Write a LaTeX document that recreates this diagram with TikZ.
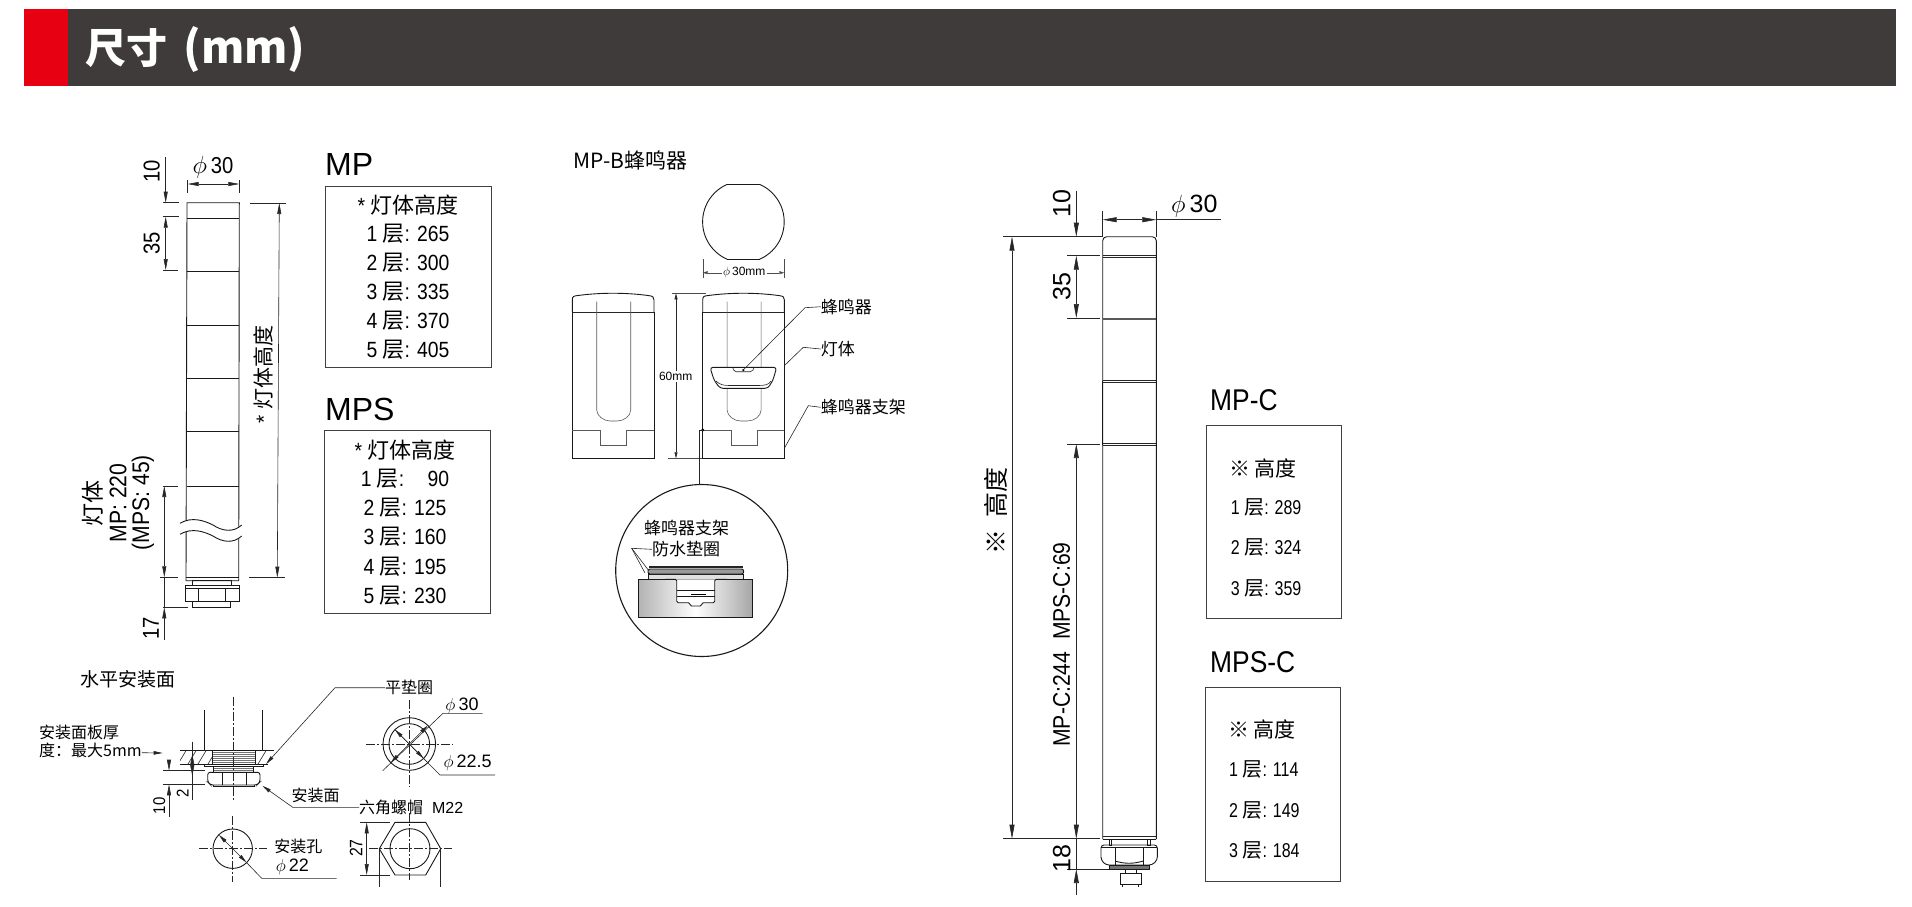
\documentclass[tikz,border=0pt]{standalone}
\usepackage{fontspec}
\setmainfont{Liberation Sans}
\newfontfamily\cjk{Noto Sans CJK SC}
\newfontfamily\narrowsans[FakeStretch=0.88]{Liberation Sans}
\newfontfamily\slimsans[FakeStretch=0.8]{Liberation Sans}
\usetikzlibrary{arrows.meta,positioning}
\definecolor{headgray}{HTML}{3F3B3A}
\definecolor{headred}{HTML}{E60012}
\newcommand{\cn}[1]{{\cjk #1}}
\newcommand{\fsz}[1]{\fontsize{#1}{#1}\selectfont}
\newcommand{\dia}{$\phi$\,}
\tikzset{
  txt/.style={inner sep=0pt,font=\fsz{#1}},
  cntxt/.style={inner sep=0pt,font=\cjk\fsz{#1}},
  rowtxt/.style={inner sep=0pt,font=\narrowsans\fsz{22}},
  slimrow/.style={inner sep=0pt,anchor=west,font=\slimsans\fsz{20}},
  dimtxt/.style={inner sep=0pt,rotate=90,font=\narrowsans\fsz{#1}},
  outline/.style={line width=0.9pt,black!90},
  wavecut/.style={white,line width=10pt},
  thinline/.style={line width=0.6pt,black!85},
  tablebox/.style={line width=0.9pt,black!75},
  axisline/.style={line width=0.6pt,black!85,dash pattern=on 9pt off 2pt on 2pt off 2pt},
  dimboth/.style={thinline,{Stealth[length=11pt,width=4pt,inset=0pt]}-{Stealth[length=11pt,width=4pt,inset=0pt]}},
  dimend/.style={thinline,-{Stealth[length=11pt,width=4pt,inset=0pt]}},
  bigboth/.style={thinline,{Stealth[length=14pt,width=5pt,inset=0pt]}-{Stealth[length=14pt,width=5pt,inset=0pt]}},
  bigend/.style={thinline,-{Stealth[length=14pt,width=5pt,inset=0pt]}},
  circboth/.style={thinline,{Stealth[length=9pt,width=3.5pt,inset=0pt]}-{Stealth[length=9pt,width=3.5pt,inset=0pt]}},
  minibegin/.style={line width=0.4pt,black!70,{Stealth[length=5pt,width=3pt,inset=0pt]}-},
  miniend/.style={line width=0.4pt,black!70,-{Stealth[length=5pt,width=3pt,inset=0pt]}},
  leadtip/.style={thinline,-{Stealth[length=9pt,width=3.5pt,inset=0pt]}}
}
\begin{document}
\begin{tikzpicture}[x=1pt,y=-1pt]
\useasboundingbox (0,0) rectangle (1912,906);

% Header bar
\fill[headgray] (67,9) rectangle (1896,86);
\fill[headred] (24,9) rectangle (67.5,86);
\node[anchor=west,white,inner sep=0pt,font=\cjk\bfseries\fsz{41}] (headtitle) at (85,50) {尺寸\hspace{7pt} {\fsz{44}(mm)}};

% Left lamp body
\draw[outline] (186,580.7) -- (187,202.7) -- (239.3,202.7) -- (238.7,580.7) -- cycle;
\foreach \yy in {218.3,271.7,325,378.3,431.7,486} \draw[outline] (186.5,\yy) -- (239,\yy);
\draw[outline] (186,577.3) -- (238.7,577.3);
\foreach \dy/\sty in {5.5/wavecut,0/outline,11/outline}
  \draw[shift={(0,\dy)},\sty] (180,523.3) .. controls (192,516) and (205,521) .. (213,525)
     .. controls (222,531) and (233,533) .. (241.7,525);
% Left lamp nut
\draw[outline] (192.7,580.7) rectangle (231.3,585);
\draw[outline] (185,585) rectangle (239,601.7);
\draw[outline] (185,588) -- (239,588);
\draw[outline] (198,588) -- (198,601.7) (225.3,588) -- (225.3,601.7);
\draw[outline] (192.7,601.7) rectangle (230.7,607.3);

% Left lamp dimensions
\draw[thinline] (187.7,180) -- (187.7,192.7) (239.3,180) -- (239.3,192.7);
\draw[dimboth] (187.7,184) -- (239.3,184);
\node[inner sep=0pt,font=\narrowsans\fsz{23}] (leftdia) at (213,167) {\dia 30};
\draw[dimend] (165.7,157) -- (165.7,202.7);
\draw[thinline] (163,202.7) -- (179,202.7) (163,216.7) -- (179,216.7) (163,270) -- (178,270);
\draw[dimboth] (165.7,216.7) -- (165.7,270);
\node[dimtxt=23] (lefttop) at (151.7,171.7) {10};
\node[dimtxt=23] (leftstep) at (151.7,243) {35};
\draw[thinline] (163,486) -- (178,486) (160,577.3) -- (178,577.3) (163,607.3) -- (188,607.3);
\draw[dimboth] (164.3,486) -- (164.3,577.3);
\draw[thinline] (164.3,577.3) -- (164.3,607.3);
\draw[dimend] (164.3,640) -- (164.3,607.3);
\node[dimtxt=23] (leftbase) at (151,628) {17};
\node[rotate=90,inner sep=0pt,font=\cjk\fsz{23}] (bodyname) at (93,503) {灯体};
\node[dimtxt=24] (bodymp) at (118,503) {MP: 220};
\node[dimtxt=24] (bodymps) at (143,502.7) {(MPS: 45)};
\draw[thinline] (250,203) -- (286,203) (249,577.5) -- (285,577.5);
\draw[dimboth] (279.3,203) -- (277.3,577.5);
\node[rotate=90,inner sep=0pt,font=\fsz{21}] (heightlbl) at (263,374) {* \cn{灯体高度}};

% MP table
\node[anchor=west,txt=32] (mptitle) at (325,164) {MP};
\draw[tablebox] (325,186) rectangle (491,367.3);
\node[rowtxt] (mphead) at (408,205) {* \cn{灯体高度}};
\foreach \i/\yy/\val in {1/233.3/265,2/262.7/300,3/291.7/335,4/320.7/370,5/350/405}
  \node[rowtxt] (mprow\i) at (408,\yy) {\i\ \cn{层}: \val};

% MPS table
\node[anchor=west,txt=32] (mpstitle) at (325,409) {MPS};
\draw[tablebox] (324.5,430.7) rectangle (490,613.3);
\node[rowtxt] (mpshead) at (405,450) {* \cn{灯体高度}};
\foreach \i/\yy/\val in {1/479/{\ \ \ 90},2/508/125,3/537/160,4/567/195,5/595.7/230}
  \node[rowtxt] (mpsrow\i) at (405,\yy) {\i\ \cn{层}: \val};

% Horizontal mounting section
\node[anchor=west,cntxt=19] (mountname) at (80,679) {水平安装面};
\draw[outline] (204.3,710) -- (204.3,750.7) (262.3,710) -- (262.3,750.7);
\begin{scope}
  \clip (180,750.7) -- (274,750.7) -- (268,764) -- (180,764) -- cycle;
  \foreach \xx in {178,188,198,208,248,258,268,278} \draw[thinline] (\xx,764) -- (\xx+8,750.7);
\end{scope}
\draw[outline] (180,750.7) -- (274,750.7) (180,764) -- (268,764);
\fill[white] (212.7,751) rectangle (255,763.7);
\foreach \yy in {752.5,754.5,...,763} \draw[line width=0.5pt,black!55] (212.7,\yy) -- (255,\yy);
\draw[outline] (212.7,750.7) -- (212.7,764) (255,750.7) -- (255,764);
\draw[outline] (204.3,764) rectangle (263.3,766.7);
\foreach \yy in {768,770} \draw[line width=0.5pt,black!55] (213.3,\yy) -- (253.3,\yy);
\draw[outline] (213.3,766.7) -- (213.3,772) (253.3,766.7) -- (253.3,772);
\draw[outline,rounded corners=2.5pt] (207.7,772.3) -- (260,772.3) -- (260,782) -- (257,785) -- (210.7,785) -- (207.7,782) -- cycle;
\draw[outline] (222.7,772.3) -- (222.7,785) (246,772.3) -- (246,785);
\draw[outline] (213,785) -- (213,786.7) -- (254,786.7) -- (254,785);
\draw[axisline] (233.7,696.7) -- (233.7,800);

% Mounting section dimensions
\draw[thinline] (163,770.7) -- (205,770.7) (163,784.3) -- (205,784.3);
\draw[dimend] (169,760) -- (169,770.7);
\draw[dimend] (169,817) -- (169,784.3);
\node[dimtxt=17] (mounttall) at (159.3,805.7) {10};
\draw[thinline] (192.3,741.7) -- (192.3,800);
\draw[dimend] (192.3,768) -- (192.3,754);
\draw[dimend] (192.3,765) -- (192.3,776);
\node[dimtxt=17] (mountgap) at (182.7,793) {2};
\node[anchor=west,cntxt=16] (panelone) at (39,732.7) {安装面板厚};
\node[anchor=west,cntxt=16] (paneltwo) at (39,750.7) {度：最大5mm};
\coordinate (panelend) at (162.7,753);
\draw[leadtip] (paneltwo.east) ++(0,2) -- (panelend);

% Leaders of the mounting section
\node[cntxt=16] (washerlbl) at (409,687.7) {平垫圈};
\coordinate (washerbend) at (335,687.7);
\coordinate (washertip) at (266,764);
\draw[leadtip] (washerlbl.west) -- (washerbend) -- (washertip);
\node[cntxt=16] (facelbl) at (315.7,795) {安装面};
\node[anchor=west,inner sep=0pt,font=\fsz{16}] (nutlbl) at (359,807.3) {\cn{六角螺帽}\ \ M22};
\coordinate (facebend) at (292.7,807.3);
\coordinate (facetip) at (262.3,785.7);
\draw[leadtip] (nutlbl.west) -- (facebend) -- (facetip);

% Washer circles
\draw[outline] (409.3,744) circle (26.3);
\draw[outline] (409.3,744) circle (20.3);
\draw[axisline] (409.3,700) -- (409.3,786.7);
\draw[axisline] (366,744) -- (452.7,744);
\node[txt=18] (outerdia) at (462,705.7) {\dia 30};
\node[txt=18] (innerdia) at (467.7,763.3) {\dia 22.5};
\coordinate (outera) at (427.9,725.4);
\coordinate (outerb) at (390.7,762.6);
\draw[thinline] (482.7,713.3) -- (443,713.3) -- (382.7,770.7);
\draw[circboth] (outera) -- (outerb);
\coordinate (innera) at (394.9,729.6);
\coordinate (innerb) at (423.7,758.4);
\draw[thinline] (495,775) -- (440,775) -- (innera);
\draw[circboth] (innera) -- (innerb);

% Mounting hole
\draw[outline] (232.7,848.7) circle (19.7);
\draw[axisline] (232.7,815.7) -- (232.7,882.3);
\draw[axisline] (199.3,848.7) -- (266.7,848.7);
\node[cntxt=16] (holelbl) at (298.3,846.7) {安装孔};
\node[txt=18] (holedia) at (292.3,866.7) {\dia 22};
\coordinate (holea) at (218.8,834.8);
\coordinate (holeb) at (246.6,862.6);
\draw[thinline] (336.7,878.3) -- (261.7,878.3) -- (holeb);
\draw[circboth] (holea) -- (holeb);

% Hex nut
\draw[outline] (379.3,848.7) -- (395,822.3) -- (425.7,822.3) -- (440.7,848.7) -- (425.7,875) -- (395,875) -- cycle;
\draw[outline] (410,848.7) circle (20);
\draw[axisline] (409,813) -- (409,880);
\draw[axisline] (369,848.7) -- (452,848.7);
\draw[thinline] (360,822.3) -- (390,822.3) (360,875) -- (390,875);
\draw[dimboth] (366.7,822.3) -- (366.7,875);
\node[dimtxt=18] (hexflat) at (356,848) {27};
\draw[thinline] (379.3,848.7) -- (379.3,886.7) (440.7,848.7) -- (440.7,886.7);

% Buzzer title and top view
\node[anchor=west,cntxt=21] (buzzname) at (573.3,160) {MP-B蜂鸣器};
\begin{scope}
  \clip (700,184.3) rectangle (790,259.3);
  \draw[outline] (743.4,221.8) circle (40.8);
\end{scope}
\draw[outline] (726.9,184.5) -- (759.9,184.5) (726.9,259.1) -- (759.9,259.1);
\draw[line width=0.4pt,black!70] (702.7,259.3) -- (702.7,278.3) (784.3,259.3) -- (784.3,278.3);
\node[inner sep=1pt,font=\fsz{12}] (buzzdia) at (744.3,272.7) {\dia 30mm};
\coordinate (diaLeft) at (702.7,272.7);
\coordinate (diaRight) at (784.3,272.7);
\draw[minibegin] (diaLeft) -- (buzzdia.west);
\draw[miniend] (buzzdia.east) -- (diaRight);

% Two buzzer lamps
\foreach \dx in {0,130.4} {
  \begin{scope}[shift={(\dx,0)}]
    \draw[outline] (572.3,312) -- (572.3,300) .. controls (572.3,296) and (574,296) .. (578,295.5)
      .. controls (600,292.5) and (626,292.5) .. (648,295.5)
      .. controls (653,296) and (654,297) .. (654,300) -- (654,312);
    \draw[line width=1.6pt,black!85] (572.3,312.5) -- (654,312.5);
    \draw[outline] (572.3,312) -- (572.3,458.3) -- (654,458.3) -- (654,312);
    \draw[thinline,black!65] (596.7,301.7) -- (596.7,410) .. controls (596.7,416) and (604,421) .. (610,421)
      -- (617,421) .. controls (624,421) and (630.7,416) .. (630.7,410) -- (630.7,301.7);
    \draw[thinline,black!65] (572.3,430) -- (600.7,430) -- (600.7,445) -- (626.7,445) -- (626.7,430) -- (654,430);
  \end{scope}
}

% Buzzer unit on the right lamp
\draw[outline,fill=white,rounded corners=3pt] (710,367.3) -- (776.7,367.3) -- (773,380) -- (768,388.3) -- (720,388.3) -- (714,380) -- cycle;
\draw[thinline] (716,381) .. controls (720,385) and (724,385.5) .. (730,385.5) -- (758,385.5) .. controls (764,385.5) and (769,385) .. (771,381);
\draw[thinline,rounded corners=2pt] (732.7,367.3) -- (734,371.7) -- (752.5,371.7) -- (754,367.3);
\fill (743.3,370) circle (1.2);

% Buzzer leaders
\node[anchor=west,cntxt=17] (buzzlbl) at (820.7,306.7) {蜂鸣器};
\node[anchor=west,cntxt=17] (bodylbl) at (820.7,349) {灯体};
\node[anchor=west,cntxt=17] (standlbl) at (820.7,407.3) {蜂鸣器支架};
\coordinate (buzzdot) at (743.3,370);
\coordinate (bodytip) at (785,365);
\coordinate (standtip) at (784.3,448.3);
\draw[thinline] (buzzlbl.west) -- (805,307.7) -- (buzzdot);
\draw[thinline] (bodylbl.west) -- (803.3,347.3) -- (bodytip);
\draw[thinline] (standlbl.west) -- (808.3,405.7) -- (standtip);

% Buzzer height
\draw[line width=0.4pt,black!70] (671.7,293.3) -- (706,293.3) (668,458.3) -- (702,458.3);
\draw[thinline,{Stealth[length=6pt,width=3pt,inset=0pt]}-{Stealth[length=6pt,width=3pt,inset=0pt]}] (676,293.3) -- (676,458.3);
\node[fill=white,inner sep=1pt,font=\fsz{12}] (buzzheight) at (675.7,376.7) {60mm};

% Detail circle
\draw[line width=1.1pt,black!90] (701.7,570.5) circle (86);
\coordinate (detaildot) at (702.7,430);
\fill (detaildot) circle (1.7);
\draw[thinline] (detaildot) -- (699,430) -- (699,484.5);
\node[cntxt=17] (detailstand) at (686.7,527.7) {蜂鸣器支架};
\node[cntxt=17] (detailseal) at (686,549.3) {防水垫圈};
\draw[thinline] (detailseal.west) -- (631.7,548.3) -- (648.3,570);
\draw[thinline] (631.7,548.3) -- (645,573);
\draw[outline,fill=black!12] (648.3,574) rectangle (743.3,579.3);
\draw[outline,fill=black!40,rounded corners=2pt] (648,569) rectangle (743.6,574);
\draw[line width=2pt,black!85] (649,566.5) -- (743,566.5);
\shade[left color=black!30,right color=black!35,middle color=white] (638.3,579.3) rectangle (752.7,617.7);
\draw[outline] (638.3,579.3) rectangle (752.7,617.7);
\draw[outline,fill=white,rounded corners=1.5pt] (665,579.3) -- (676.7,579.3) -- (676.7,602.7) -- (690,602.7) -- (690,606) -- (701.7,606) -- (701.7,602.7) -- (714.7,602.7) -- (714.7,579.3) -- (727,579.3);
\draw[outline] (676.7,590) -- (714.7,590) (676.7,596.7) -- (714.7,596.7);
\draw[line width=1pt] (691,594.5) -- (706,594.5);

% Right lamp body
\draw[outline,rounded corners=4pt] (1102.7,839) -- (1102.7,236.7) -- (1156.3,236.7) -- (1156.3,839);
\draw[outline] (1102.7,839) -- (1156.3,839);
\foreach \yy in {255.7,257.7,380.7,382.7,443.3,445.3,836.7} \draw[thinline] (1102.7,\yy) -- (1156.3,\yy);
\draw[line width=1.6pt,black!65] (1102.7,319) -- (1156.3,319);
\draw[outline] (1102.7,380.7) -- (1102.7,445.3) (1156.3,380.7) -- (1156.3,445.3);
% Right lamp nut and stud
\draw[outline] (1109,839) rectangle (1111.7,845) (1147.3,839) rectangle (1150,845);
\draw[outline,rounded corners=3pt] (1101,845) -- (1157.3,845) -- (1157.3,860) -- (1152,865) -- (1106,865) -- (1101,860) -- cycle;
\draw[outline] (1101,847.5) -- (1157.3,847.5) (1115,847.5) -- (1115,865) (1143.3,847.5) -- (1143.3,865);
\draw[outline] (1115,861) .. controls (1125,864) and (1133,864) .. (1143.3,861);
\draw[outline,fill=black!55] (1109,865) rectangle (1149.3,869);
\draw[outline] (1125,869) -- (1125,873.3) (1136,869) -- (1136,873.3);
\draw[outline] (1120,873.3) rectangle (1141.7,884);
\draw[outline] (1122.7,884) -- (1122.7,887.3) (1138.3,884) -- (1138.3,887.3);

% Right lamp dimensions
\draw[thinline] (1102.7,210.7) -- (1102.7,236.7) (1156.3,210.7) -- (1156.3,236.7);
\draw[bigboth] (1102.7,219.7) -- (1156.3,219.7);
\draw[thinline] (1156.3,219.7) -- (1220.7,219.7);
\node[inner sep=0pt,font=\fsz{25}] (rightdia) at (1194.3,206) {\dia 30};
\draw[bigend] (1076.3,190.7) -- (1076.3,236.7);
\draw[thinline] (1003.3,236.7) -- (1102.7,236.7);
\draw[thinline] (1067.3,255.7) -- (1100,255.7) (1067.3,318) -- (1100,318) (1067.3,444) -- (1100,444);
\draw[bigboth] (1076.3,255.7) -- (1076.3,318);
\node[rotate=90,inner sep=0pt,font=\fsz{25}] (righttop) at (1061.7,203.3) {10};
\node[rotate=90,inner sep=0pt,font=\fsz{25}] (rightstep) at (1061.7,286.7) {35};
\draw[thinline] (1003.3,838.7) -- (1100,838.7);
\draw[bigboth] (1012,236.7) -- (1012,838.7);
\node[rotate=90,inner sep=0pt,font=\cjk\fsz{25}] (rightheight) at (995.7,510.7) {※\hspace{6pt} 高度};
\draw[bigboth] (1076.3,444) -- (1076.3,838.7);
\node[dimtxt=24] (rightbody) at (1061.7,644.5) {MP-C:244\ \ MPS-C:69};
\draw[thinline] (1066.7,869) -- (1109,869);
\draw[thinline] (1076.3,838.7) -- (1076.3,869);
\draw[bigend] (1076.3,895) -- (1076.3,869);
\node[rotate=90,inner sep=0pt,font=\fsz{25}] (rightbase) at (1061.7,858.3) {18};

% MP-C table
\node[anchor=west,inner sep=0pt,font=\narrowsans\fsz{30}] (mpctitle) at (1210,400) {MP-C};
\draw[tablebox] (1206.7,425) rectangle (1341,618.3);
\node[anchor=west,cntxt=21] (mpchead) at (1229,468.3) {※ 高度};
\foreach \i/\yy/\val in {1/507.3/289,2/547.3/324,3/588.3/359}
  \node[slimrow] (mpcrow\i) at (1230.7,\yy) {\i\ \cn{层}: \val};

% MPS-C table
\node[anchor=west,inner sep=0pt,font=\narrowsans\fsz{30}] (mpsctitle) at (1210,662.3) {MPS-C};
\draw[tablebox] (1205.7,687.7) rectangle (1340.3,881);
\node[anchor=west,cntxt=21] (mpschead) at (1228,729.3) {※ 高度};
\foreach \i/\yy/\val in {1/769.3/114,2/810/149,3/850/184}
  \node[slimrow] (mpscrow\i) at (1229,\yy) {\i\ \cn{层}: \val};
\end{tikzpicture}
\end{document}
